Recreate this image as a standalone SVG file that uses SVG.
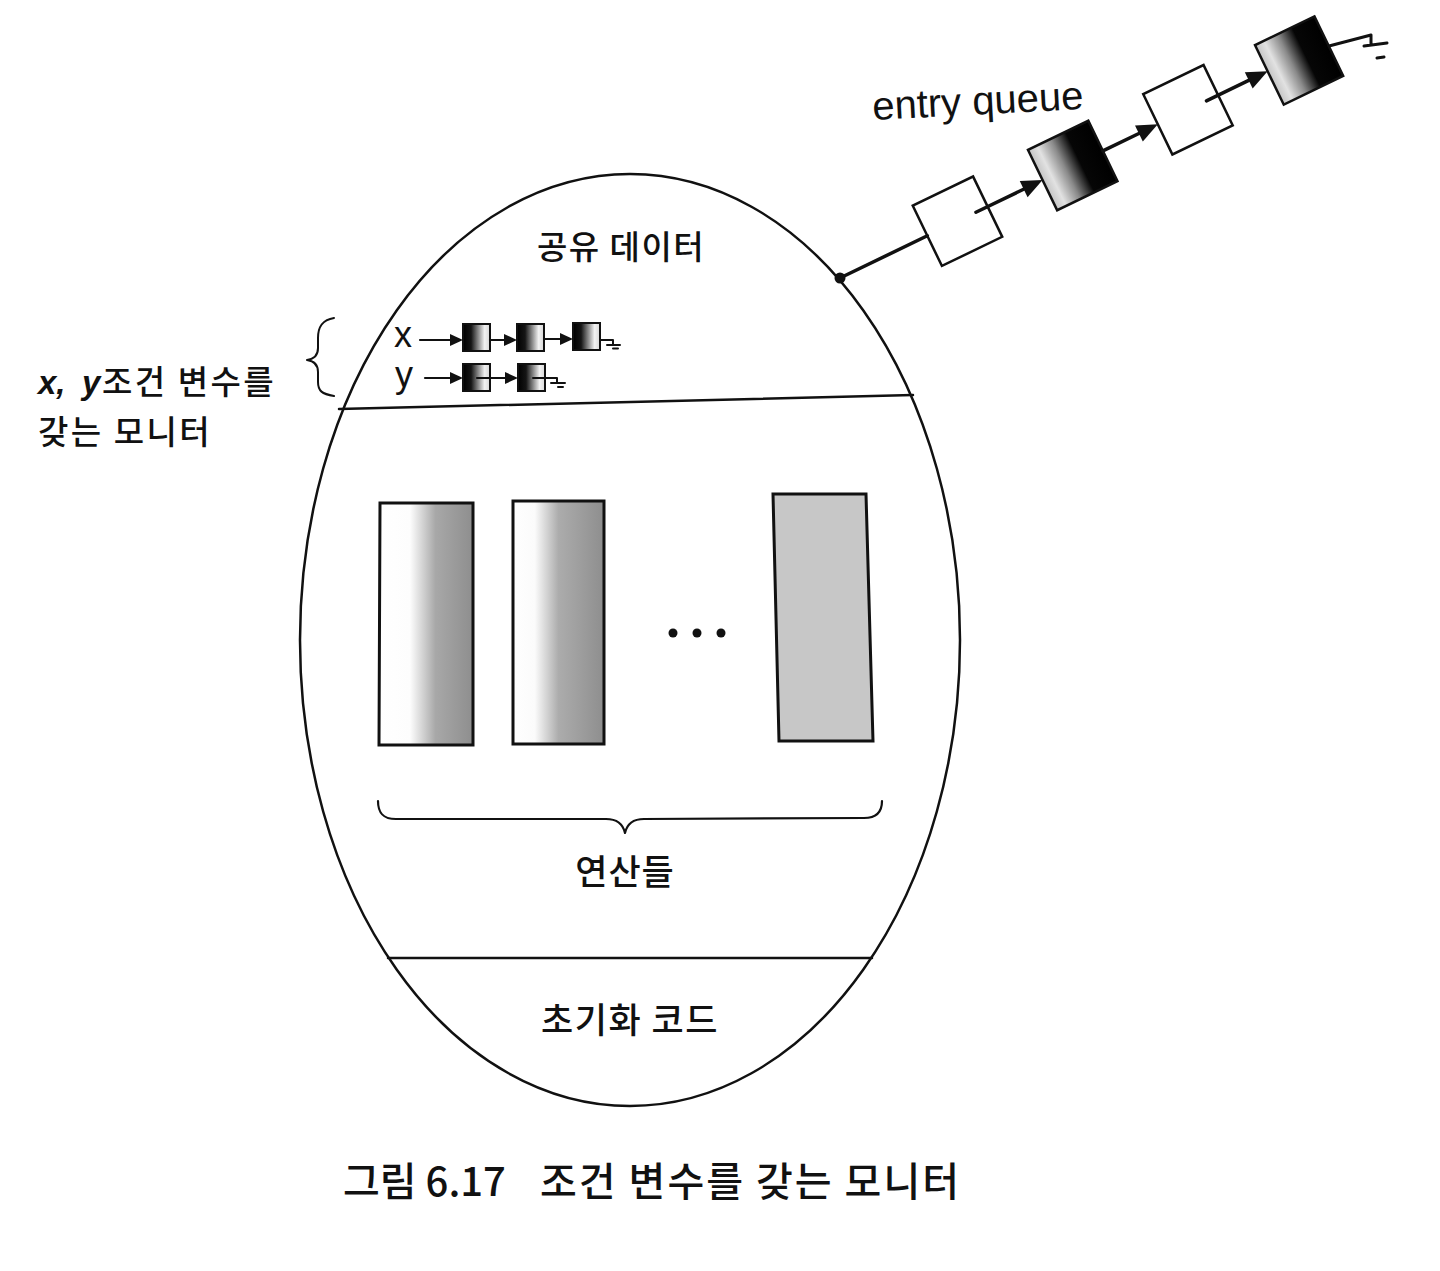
<svg xmlns="http://www.w3.org/2000/svg" width="1440" height="1271" viewBox="0 0 1440 1271">
<style>
.ko{font-family:"Noto Sans CJK KR","Noto Sans",sans-serif;fill:#111;font-weight:500}
.en{font-family:"Liberation Sans",Arial,sans-serif;fill:#111}
.ln{stroke:#111;fill:none;stroke-linecap:round;stroke-linejoin:round}
.ah{fill:#111;stroke:none}
</style>
<defs>
<linearGradient id="gSmall" x1="0" y1="0" x2="1" y2="0">
<stop offset="0" stop-color="#000"/><stop offset="0.3" stop-color="#151515"/><stop offset="0.8" stop-color="#f2f2f2"/><stop offset="1" stop-color="#d8d8d8"/>
</linearGradient>
<linearGradient id="gDark" x1="0" y1="0" x2="1" y2="0">
<stop offset="0" stop-color="#c4c4c4"/><stop offset="0.15" stop-color="#e2e2e2"/><stop offset="0.38" stop-color="#8a8a8a"/><stop offset="0.62" stop-color="#060606"/><stop offset="1" stop-color="#000"/>
</linearGradient>
<linearGradient id="gOp1" x1="0" y1="0" x2="1" y2="0">
<stop offset="0" stop-color="#fff"/><stop offset="0.33" stop-color="#fdfdfd"/><stop offset="0.6" stop-color="#a8a8a8"/><stop offset="1" stop-color="#8e8e8e"/>
</linearGradient>
<linearGradient id="gOp2" x1="0" y1="0" x2="1" y2="0">
<stop offset="0" stop-color="#fff"/><stop offset="0.24" stop-color="#fbfbfb"/><stop offset="0.5" stop-color="#acacac"/><stop offset="1" stop-color="#8e8e8e"/>
</linearGradient>
</defs>

<g id="monitor">
<ellipse cx="630" cy="640" rx="330" ry="466" fill="#fff" stroke="#111" stroke-width="2.5"/>
<line class="ln" x1="339" y1="409" x2="913" y2="395" stroke-width="2.5"/>
<line class="ln" x1="388" y1="958" x2="872" y2="958" stroke-width="2.5"/>
</g>

<g id="shared-data">
<text class="ko" x="621" y="259" font-size="33" letter-spacing="1.5" text-anchor="middle">공유 데이터</text>
</g>

<g id="condition-queues">
<text class="en" x="394" y="347" font-size="36">x</text>
<text class="en" x="395" y="387" font-size="36">y</text>
<rect x="463" y="324" width="27" height="27" fill="url(#gSmall)" stroke="#111" stroke-width="2"/>
<rect x="517" y="324" width="27" height="27" fill="url(#gSmall)" stroke="#111" stroke-width="2"/>
<rect x="573" y="323" width="27" height="27" fill="url(#gSmall)" stroke="#111" stroke-width="2"/>
<rect x="463" y="364" width="27" height="27" fill="url(#gSmall)" stroke="#111" stroke-width="2"/>
<rect x="518" y="364" width="27" height="27" fill="url(#gSmall)" stroke="#111" stroke-width="2"/>
</g>

<g id="operations">
<polygon points="380,503 473,503 473,745 379,745" fill="url(#gOp1)" stroke="#111" stroke-width="3"/>
<polygon points="513,501 604,501 604,744 513,744" fill="url(#gOp2)" stroke="#111" stroke-width="3"/>
<polygon points="773,494 866,494 873,741 779,741" fill="#c7c7c7" stroke="#111" stroke-width="3"/>
<circle cx="673" cy="633" r="4.5" fill="#111"/>
<circle cx="697" cy="633" r="4.5" fill="#111"/>
<circle cx="721" cy="633" r="4.5" fill="#111"/>
<path class="ln" stroke-width="2.2" d="M378,801 C378,812 382,819 396,819 L606,819 C617,819 623,824 625,833 C627,824 633,819 644,819 L864,818 C877,818 882,811 882,801"/>
<text class="ko" x="625" y="885" font-size="35" letter-spacing="1" text-anchor="middle">연산들</text>
</g>

<g id="init-code">
<text class="ko" x="630" y="1033" font-size="35" letter-spacing="1.5" text-anchor="middle">초기화 코드</text>
</g>

<g id="entry-queue">
<text class="en" x="873" y="120" font-size="40" transform="rotate(-3 873 120)">entry queue</text>
<g transform="translate(840,278) rotate(-25.8)">
<rect x="97" y="-33.5" width="67" height="67" fill="#fff" stroke="#111" stroke-width="2.5"/>
<rect x="225" y="-33.5" width="67" height="67" fill="url(#gDark)" stroke="#111" stroke-width="2.5"/>
<rect x="353" y="-33.5" width="67" height="67" fill="#fff" stroke="#111" stroke-width="2.5"/>
<rect x="475" y="-29" width="66" height="66" fill="url(#gDark)" stroke="#111" stroke-width="2.5"/>
</g>
</g>

<g id="left-label">
<path class="ln" stroke-width="2" d="M334,318 C322,320 318,327 318,338 L318,348 C318,355 314,359 307,360 C314,361 318,365 318,372 L318,382 C318,391 322,394 334,396"/>
<text class="ko" y="394" font-size="33"><tspan x="38" font-family="'Liberation Sans',Arial,sans-serif" font-weight="bold" font-style="italic">x,</tspan><tspan x="82" font-family="'Liberation Sans',Arial,sans-serif" font-weight="bold" font-style="italic">y</tspan><tspan x="102" letter-spacing="2.5">조건 변수를</tspan></text>
<text class="ko" x="38" y="444" font-size="33" letter-spacing="2.5">갖는 모니터</text>
</g>

<g id="connectors">
<g transform="translate(840,278) rotate(-25.8)">
<line class="ln" x1="0" y1="0" x2="97" y2="0" stroke-width="3.5"/>
<line class="ln" x1="151" y1="0" x2="208" y2="0" stroke-width="3.5"/>
<polygon class="ah" points="225,0 204,-9 204,9"/>
<line class="ln" x1="292" y1="0" x2="336" y2="0" stroke-width="3.5"/>
<polygon class="ah" points="353,0 332,-9 332,9"/>
<line class="ln" x1="407" y1="0" x2="458" y2="0" stroke-width="3.5"/>
<polygon class="ah" points="475,0 454,-9 454,9"/>
</g>
<circle cx="840" cy="278" r="5.5" fill="#111"/>
<path class="ln" stroke-width="3" d="M1329,46 L1371,35 L1371,45 M1364,46 L1387,43 M1377,58 L1384,57"/>
<line class="ln" x1="420" y1="340" x2="452" y2="340" stroke-width="2.2"/>
<polygon class="ah" points="463,340 450,334 450,346"/>
<line class="ln" x1="490" y1="340" x2="506" y2="340" stroke-width="2.2"/>
<polygon class="ah" points="517,340 504,334 504,346"/>
<line class="ln" x1="544" y1="339" x2="562" y2="339" stroke-width="2.2"/>
<polygon class="ah" points="573,339 560,333 560,345"/>
<path class="ln" stroke-width="2" d="M600,340 L613,340 L613,345 M607,345 L620,345 M613,348.5 L618,348.5"/>
<line class="ln" x1="425" y1="378" x2="452" y2="378" stroke-width="2.2"/>
<polygon class="ah" points="463,378 450,372 450,384"/>
<line class="ln" x1="477" y1="378" x2="507" y2="378" stroke-width="2.2"/>
<polygon class="ah" points="518,378 505,372 505,384"/>
<path class="ln" stroke-width="2" d="M533,378 L557,378 L557,383 M551,383 L565,383 M558,387 L563,387"/>
</g>

<g id="caption">
<text class="ko" x="343" y="1196" font-size="40" font-weight="bold">그림 6.17</text>
<text class="ko" x="540" y="1196" font-size="40" font-weight="bold" letter-spacing="2">조건 변수를 갖는 모니터</text>
</g>
</svg>
